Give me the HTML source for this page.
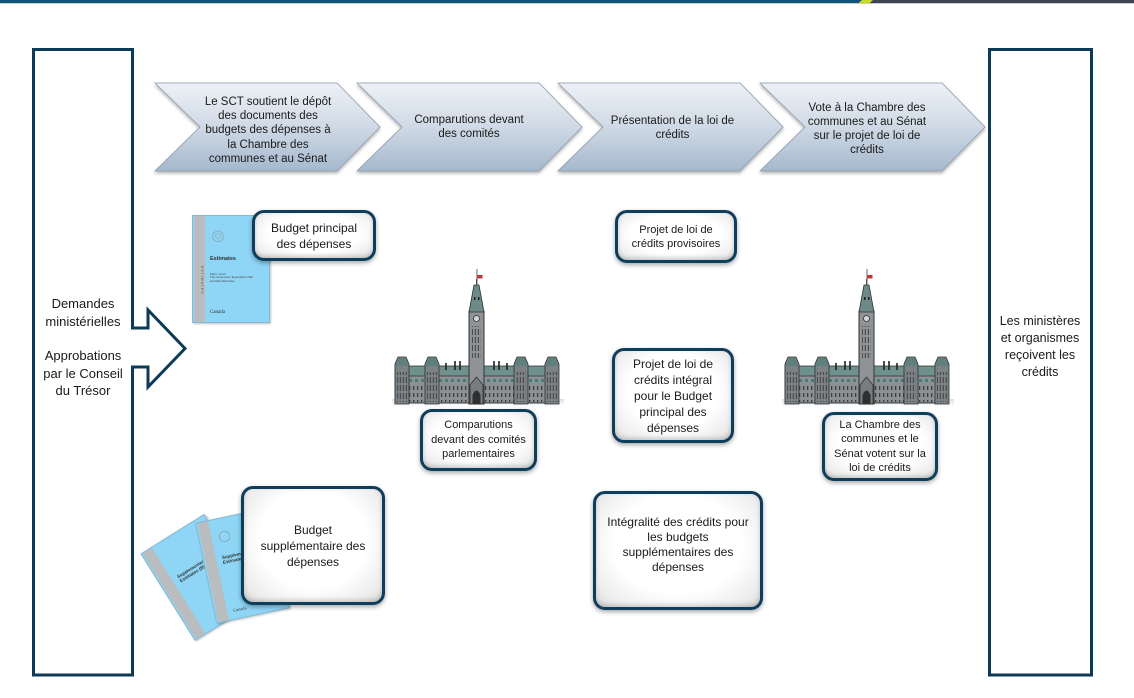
<!DOCTYPE html>
<html>
<head>
<meta charset="utf-8">
<style>
  html,body{margin:0;padding:0;background:#fff;}
  body{width:1134px;height:698px;overflow:hidden;position:relative;font-family:"Liberation Sans",Arial,sans-serif;color:#1a1a1a;}
  .abs{position:absolute;}
  .ctext{position:absolute;text-align:center;white-space:nowrap;}
  .box{position:absolute;box-sizing:border-box;border:3px solid #0f3d5c;border-radius:12px;
       background:radial-gradient(ellipse at 50% 45%, #ffffff 55%, #ececec 85%, #d6d6d6 100%);
       box-shadow:0 2px 5px rgba(0,0,0,.35), inset 0 -2px 5px rgba(0,0,0,.18);
       display:flex;align-items:center;justify-content:center;text-align:center;white-space:nowrap;color:#1a1a1a;}
  .book{position:absolute;box-sizing:border-box;background:#8fd6f6;border:1px solid #86b9d2;box-shadow:1px 1px 2px rgba(0,0,0,.25);overflow:hidden;}
  .stripe{position:absolute;left:1px;top:0;bottom:0;width:11px;background:#b9bdc0;}
</style>
</head>
<body>

<!-- top bar -->
<div class="abs" style="left:0;top:0;width:1134px;height:4px;background:#c9ced3;"></div>
<div class="abs" style="left:0;top:0;width:862px;height:3px;background:#0f5578;"></div>
<div class="abs" style="left:870px;top:0;width:264px;height:3px;background:#3d4453;"></div>
<svg class="abs" style="left:855px;top:0" width="22" height="4"><polygon points="3,3.5 7,0 18,0 14,3.5" fill="#c9da2c"/></svg>

<svg class="abs" style="left:0;top:0" width="1134" height="698">
  <defs>
    <linearGradient id="chev" x1="0" y1="0" x2="0" y2="1">
      <stop offset="0" stop-color="#edf1f6"/>
      <stop offset="0.5" stop-color="#cfd9e5"/>
      <stop offset="1" stop-color="#a5b8cd"/>
    </linearGradient>
    <linearGradient id="gsh" x1="0" y1="0" x2="0" y2="1">
      <stop offset="0" stop-color="#d4d7da" stop-opacity="0.9"/>
      <stop offset="1" stop-color="#ffffff" stop-opacity="0"/>
    </linearGradient>
    <filter id="sh" x="-10%" y="-10%" width="120%" height="130%">
      <feDropShadow dx="0" dy="2" stdDeviation="1.5" flood-color="#000" flood-opacity="0.3"/>
    </filter>
    <pattern id="win" x="0" y="0" width="4" height="7" patternUnits="userSpaceOnUse">
      <rect x="1" y="1" width="1.3" height="4" fill="#3a3d40"/>
    </pattern>
    <pattern id="win2" x="0" y="0" width="3" height="8" patternUnits="userSpaceOnUse">
      <rect x="0.8" y="1" width="1.2" height="6" fill="#4a4d50"/>
    </pattern>
    <pattern id="gwin" x="0" y="0" width="6" height="6" patternUnits="userSpaceOnUse">
      <rect x="1" y="1" width="3" height="3" fill="#2e7a6e"/>
    </pattern>
  </defs>

  <!-- chevrons -->
  <g filter="url(#sh)" stroke="#8c9bac" stroke-width="0.8" fill="url(#chev)">
    <polygon points="155,83 337,83 380,127 337,171 155,171 200,127"/>
    <polygon points="357,83 539,83 582,127 539,171 357,171 402,127"/>
    <polygon points="558,83 740,83 783,127 740,171 558,171 603,127"/>
    <polygon points="760,83 942,83 985,127 942,171 760,171 805,127"/>
  </g>

  <!-- left box with arrow -->
  <path d="M33.5,49.5 H132.5 V328 H148 V310 L185,348.5 L148,387 V367 H132.5 V675 H33.5 Z"
        fill="#fff" stroke="#0d3a57" stroke-width="3" stroke-linejoin="miter"/>
  <!-- right box -->
  <rect x="989.5" y="49.5" width="102" height="625.5" fill="#fff" stroke="#0d3a57" stroke-width="3"/>

  <!-- Parliament building -->
  <g id="parl">
    <rect x="392" y="399" width="172" height="10" fill="url(#gsh)"/>
    <rect x="395" y="370" width="163" height="33" fill="#8d9194" stroke="#34373a" stroke-width="1"/>
    <rect x="395" y="366" width="163" height="10" fill="#6f918c" stroke="#34373a" stroke-width="0.8"/>
    <rect x="396" y="376" width="161" height="6" fill="url(#gwin)" opacity="0.8"/>
    <rect x="396" y="383" width="161" height="19" fill="url(#win)"/>
    <g fill="#7c8184" stroke="#2f3235" stroke-width="0.8">
      <polygon points="395,404 395,364 398,357 406,357 409,364 409,404"/>
      <polygon points="425,404 425,364 428,357 436,357 439,364 439,404"/>
      <polygon points="514,404 514,364 517,357 525,357 528,364 528,404"/>
      <polygon points="545,404 545,364 548,357 556,357 559,364 559,404"/>
    </g>
    <g fill="#5f807c">
      <polygon points="395.5,366 398,358 406,358 408.5,366"/>
      <polygon points="425.5,366 428,358 436,358 438.5,366"/>
      <polygon points="514.5,366 517,358 525,358 527.5,366"/>
      <polygon points="545.5,366 548,358 556,358 558.5,366"/>
    </g>
    <g fill="url(#win2)">
      <rect x="397" y="372" width="10" height="30"/>
      <rect x="427" y="372" width="10" height="30"/>
      <rect x="516" y="372" width="10" height="30"/>
      <rect x="547" y="372" width="10" height="30"/>
    </g>
    <g stroke="#222" stroke-width="1.6">
      <line x1="455" y1="361" x2="455" y2="370"/>
      <line x1="460" y1="361" x2="460" y2="370"/>
      <line x1="494" y1="361" x2="494" y2="370"/>
      <line x1="499" y1="361" x2="499" y2="370"/>
      <line x1="446" y1="363" x2="446" y2="370"/>
      <line x1="507" y1="363" x2="507" y2="370"/>
    </g>
    <!-- tower -->
    <rect x="469" y="311" width="15" height="93" fill="#8f9396" stroke="#2f3235" stroke-width="1"/>
    <rect x="472" y="326" width="9" height="32" fill="url(#win2)"/>
    <polygon points="469,312 484,312 479,285 474,285" fill="#6b8a88" stroke="#2f3235" stroke-width="0.8"/>
    <rect x="474" y="297" width="1.5" height="3" fill="#222"/>
    <rect x="478" y="297" width="1.5" height="3" fill="#222"/>
    <line x1="476.5" y1="285" x2="476.5" y2="279" stroke="#444" stroke-width="1"/>
    <circle cx="476.5" cy="318.5" r="3" fill="#d2d6d8" stroke="#2f3235" stroke-width="0.8"/>
    <line x1="477" y1="269" x2="477" y2="285" stroke="#555" stroke-width="0.9"/>
    <rect x="477.5" y="275" width="5" height="3.5" fill="#c8342b"/>
    <!-- entrance -->
    <polygon points="470,404 470,385 476.5,377 483,385 483,404" fill="#7a7d80" stroke="#2f3235" stroke-width="0.8"/>
    <path d="M472.5,404 V395 Q476.5,386 480.5,395 V404 Z" fill="#2d2f31"/>
  </g>
  <use href="#parl" transform="translate(390,0)"/>
</svg>

<!-- chevron texts -->
<div class="ctext" style="left:198px;top:95px;width:140px;font-size:11.5px;line-height:14.2px;">Le SCT soutient le dépôt<br>des documents des<br>budgets des dépenses à<br>la Chambre des<br>communes et au Sénat</div>
<div class="ctext" style="left:399px;top:114px;width:140px;font-size:11.5px;line-height:13.5px;">Comparutions devant<br>des comités</div>
<div class="ctext" style="left:600px;top:115px;width:145px;font-size:11.5px;line-height:13.5px;">Présentation de la loi de<br>crédits</div>
<div class="ctext" style="left:797px;top:101px;width:140px;font-size:11.5px;line-height:14px;">Vote à la Chambre des<br>communes et au Sénat<br>sur le projet de loi de<br>crédits</div>

<!-- left box text -->
<div class="ctext" style="left:33px;top:295px;width:100px;font-size:13px;line-height:18px;">Demandes<br>ministérielles</div>
<div class="ctext" style="left:33px;top:347px;width:100px;font-size:13px;line-height:17.7px;">Approbations<br>par le Conseil<br>du Trésor</div>

<!-- right box text -->
<div class="ctext" style="left:990px;top:313px;width:100px;font-size:12.5px;line-height:17px;">Les ministères<br>et organismes<br>reçoivent les<br>crédits</div>

<!-- Estimates book -->
<div class="book" style="left:192px;top:215px;width:78px;height:108px;">
  <div class="stripe"></div>
  <div class="abs" style="left:2px;top:50px;width:9px;font-size:3.5px;color:#555;writing-mode:vertical-rl;letter-spacing:1px;">ESTIMATES</div>
  <svg class="abs" style="left:18px;top:12px" width="14" height="16"><path d="M2,6 Q7,0 12,6 V11 Q7,16 2,11 Z" fill="none" stroke="#8aa0ad" stroke-width="0.8"/><circle cx="7" cy="8" r="2.5" fill="none" stroke="#8aa0ad" stroke-width="0.6"/></svg>
  <div class="abs" style="left:17px;top:40px;font-size:5.5px;font-weight:bold;color:#333;">Estimates</div>
  <div class="abs" style="left:17px;top:57px;font-size:2.8px;line-height:3.4px;color:#444;white-space:nowrap;">Parts I and II<br>The Government Expenditure Plan<br>and Main Estimates</div>
  <div class="abs" style="left:17px;top:94px;font-size:5px;font-family:'Liberation Serif',serif;color:#333;">Canada</div>
</div>

<!-- supplementary books -->
<div class="book" style="left:162px;top:526px;width:75px;height:103px;transform:rotate(-32deg);">
  <div class="stripe"></div>
  <div class="abs" style="left:18px;top:36px;font-size:4.5px;font-weight:bold;color:#333;">Supplementary<br>Estimates (B)</div>
</div>
<div class="book" style="left:205px;top:514px;width:75px;height:103px;transform:rotate(-12deg);">
  <div class="stripe"></div>
  <svg class="abs" style="left:18px;top:10px" width="14" height="16"><path d="M2,6 Q7,0 12,6 V11 Q7,16 2,11 Z" fill="none" stroke="#8aa0ad" stroke-width="0.8"/></svg>
  <div class="abs" style="left:18px;top:36px;font-size:4.5px;font-weight:bold;color:#333;">Supplementary<br>Estimates (B)</div>
  <div class="abs" style="left:18px;top:90px;font-size:4.5px;font-family:'Liberation Serif',serif;color:#333;">Canada</div>
</div>

<!-- rounded boxes -->
<div class="box" style="left:252px;top:210px;width:124px;height:51px;font-size:12px;line-height:16px;">Budget principal<br>des dépenses</div>
<div class="box" style="left:615px;top:210px;width:122px;height:53px;font-size:11px;line-height:14px;">Projet de loi de<br>crédits provisoires</div>
<div class="box" style="left:420px;top:409px;width:117px;height:62px;font-size:11px;line-height:14.5px;">Comparutions<br>devant des comités<br>parlementaires</div>
<div class="box" style="left:612px;top:348px;width:122px;height:95px;font-size:12px;line-height:16px;">Projet de loi de<br>crédits intégral<br>pour le Budget<br>principal des<br>dépenses</div>
<div class="box" style="left:822px;top:412px;width:116px;height:69px;font-size:11px;line-height:14.5px;">La Chambre des<br>communes et le<br>Sénat votent sur la<br>loi de crédits</div>
<div class="box" style="left:241px;top:486px;width:144px;height:119px;font-size:12px;line-height:16px;">Budget<br>supplémentaire des<br>dépenses</div>
<div class="box" style="left:593px;top:491px;width:170px;height:119px;font-size:12px;line-height:15px;padding-bottom:12px;">Intégralité des crédits pour<br>les budgets<br>supplémentaires des<br>dépenses</div>

</body>
</html>
